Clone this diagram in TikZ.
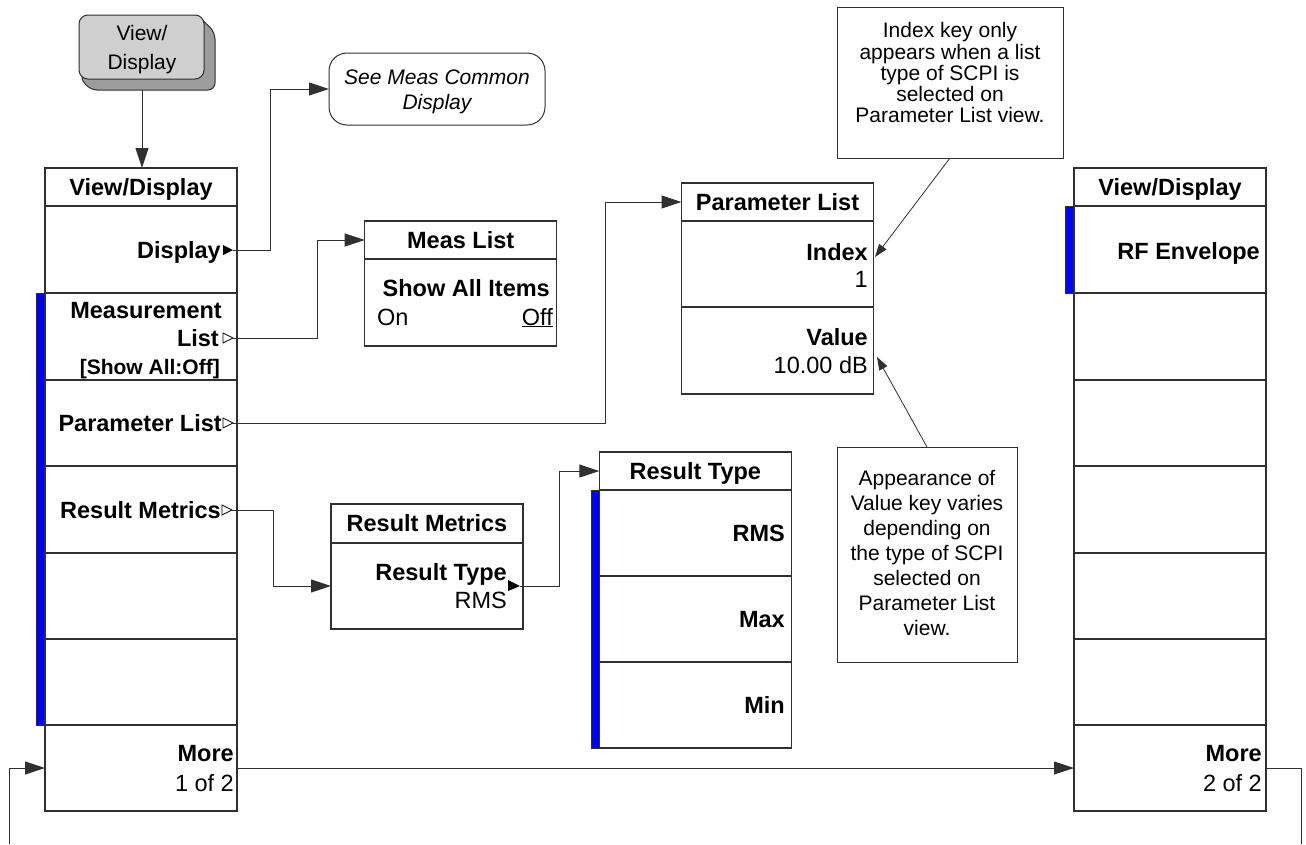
\documentclass[tikz,border=0pt]{standalone}
\usepackage{fontspec}
\setmainfont{Liberation Sans}
\usetikzlibrary{arrows.meta,calc}

\newcommand\mnuKey{\fontsize{23.5}{27}\selectfont\bfseries}
\newcommand\mnuVal{\fontsize{23.5}{27}\selectfont}
\newcommand\mnuSmall{\fontsize{21}{25}\selectfont\bfseries}
\newcommand\mnuNote{\fontsize{21}{25}\selectfont}

\definecolor{btnface}{HTML}{CFCFCF}
\definecolor{btnside}{HTML}{9C9C9C}
\definecolor{linegray}{HTML}{303030}

\begin{document}
\begin{tikzpicture}[x=1pt,y=-1pt,
  frame/.style={draw=linegray, line width=1.1pt, fill=white, rectangle,
    inner sep=0pt, outer sep=0pt, anchor=north west, minimum width=192pt},
  keylbl/.style={font=\mnuKey, inner sep=0pt, anchor=base east},
  vallbl/.style={font=\mnuVal, inner sep=0pt, anchor=base east},
  ttl/.style={font=\mnuKey, inner sep=0pt, anchor=base},
  notelbl/.style={font=\mnuNote, inner sep=0pt, anchor=base},
  bluebar/.style={fill=blue, draw=linegray, line width=0.6pt},
  glyphfill/.style={fill=black},
  glyphopen/.style={draw=black, fill=white, line width=0.8pt},
  wire/.style={draw=linegray, line width=1pt},
  conn/.style={wire, -{Triangle[length=20pt,width=13pt]}},
  noteconn/.style={draw=linegray, line width=0.8pt, -{Triangle[length=13pt,width=9pt]}},
  notebox/.style={draw=linegray, line width=1pt, fill=white, rectangle,
    inner sep=0pt, outer sep=0pt, anchor=north west}
]
\useasboundingbox (0,0) rectangle (1306,844);
\fill[white] (0,0) rectangle (1306,844);

% ---------- hard key ----------
\filldraw[fill=btnside, draw=linegray, line width=1pt, rounded corners=7pt]
  (198,16) -- (215,32) -- (215,90) -- (90,90) -- (79,76) -- cycle;
\node[draw=linegray, fill=btnface, line width=1pt, rounded corners=9pt,
  minimum width=125pt, minimum height=64pt, inner sep=0pt, outer sep=0pt,
  anchor=north west] (btn) at (79,15) {};
\node[notelbl] (btnA) at (142,40.5) {View/};
\node[notelbl] (btnB) at (142,69.5) {Display};
\coordinate (btnBase) at (142,90);

% ---------- left menu, page 1 ----------
\fill[bluebar] (36,293) rectangle (45,725);
\node[frame, minimum height=38pt] (L0) at (45,168) {};
\node[frame, minimum height=87pt] (L1) at (45,206) {};
\node[frame, minimum height=87pt] (L2) at (45,293) {};
\node[frame, minimum height=86pt] (L3) at (45,380) {};
\node[frame, minimum height=87pt] (L4) at (45,466) {};
\node[frame, minimum height=86pt] (L5) at (45,553) {};
\node[frame, minimum height=86pt] (L6) at (45,639) {};
\node[frame, minimum height=86pt] (L7) at (45,725) {};

\node[ttl] (L0t) at (141,195) {View/Display};
\node[keylbl] (L1t) at (221,258) {Display};
\node[keylbl] (L2a) at (222,318) {Measurement};
\node[keylbl] (L2b) at (219,346) {List};
\node[font=\mnuSmall, inner sep=0pt, anchor=base east] (L2c) at (220,374) {[Show All:Off]};
\node[keylbl] (L3t) at (222,431) {Parameter List};
\node[keylbl] (L4t) at (221,518) {Result Metrics};
\node[keylbl] (L7a) at (234,761) {More};
\node[vallbl] (L7b) at (234,791) {1 of 2};

% submenu markers
\fill[glyphfill] (223,245) -- (233,250) -- (223,255) -- cycle;
\coordinate (L1g) at (233,250);
\draw[glyphopen] (223,333) -- (233,338) -- (223,343) -- cycle;
\coordinate (L2g) at (233,338);
\draw[glyphopen] (223,418) -- (233,423) -- (223,428) -- cycle;
\coordinate (L3g) at (233,423);
\draw[glyphopen] (222,505) -- (232,510) -- (222,515) -- cycle;
\coordinate (L4g) at (232,510);

% ---------- reference note ----------
\node[draw=linegray, line width=1pt, rounded corners=18pt, minimum width=216pt,
  minimum height=72pt, inner sep=0pt, outer sep=0pt, anchor=north west] (see) at (329,53) {};
\node[notelbl, font=\mnuNote\itshape] (seeA) at (437,84.5) {See Meas Common};
\node[notelbl, font=\mnuNote\itshape] (seeB) at (437,109.5) {Display};

% ---------- Meas List ----------
\node[frame, minimum height=38pt] (M0) at (364.7,221) {};
\node[frame, minimum height=87pt] (M1) at (364.7,259) {};
\node[ttl] (M0t) at (460.7,248) {Meas List};
\node[keylbl] (M1a) at (550,296) {Show All Items};
\node[font=\mnuVal, inner sep=0pt, anchor=base west] (M1on) at (377,325) {On};
\node[vallbl] (M1off) at (553,325) {\underline{Off}};

% ---------- Parameter List ----------
\node[frame, minimum height=38pt] (P0) at (681.5,183) {};
\node[frame, minimum height=86pt] (P1) at (681.5,221) {};
\node[frame, minimum height=87pt] (P2) at (681.5,307) {};
\node[ttl] (P0t) at (777.5,210) {Parameter List};
\node[keylbl] (P1a) at (868,260) {Index};
\node[vallbl] (P1b) at (868,287) {1};
\node[keylbl] (P2a) at (868,345) {Value};
\node[vallbl] (P2b) at (868,373) {10.00 dB};
\coordinate (P1tip) at (875,257);
\coordinate (P2tip) at (877,357);

% ---------- notes ----------
\node[notebox, minimum width=226pt, minimum height=151pt] (NI) at (837,7) {};
\node[notelbl] (NIa) at (950,37.5) {Index key only};
\node[notelbl] (NIb) at (950,59.2) {appears when a list};
\node[notelbl] (NIc) at (950,80.2) {type of SCPI is};
\node[notelbl] (NId) at (950,101.5) {selected on};
\node[notelbl] (NIe) at (950,122.5) {Parameter List view.};

\node[notebox, minimum width=180pt, minimum height=215pt] (NV) at (837,447) {};
\node[notelbl] (NVa) at (927,485.5) {Appearance of};
\node[notelbl] (NVb) at (927,510.5) {Value key varies};
\node[notelbl] (NVc) at (927,535.5) {depending on};
\node[notelbl] (NVd) at (927,560.5) {the type of SCPI};
\node[notelbl] (NVe) at (927,585.5) {selected on};
\node[notelbl] (NVf) at (927,610.5) {Parameter List};
\node[notelbl] (NVg) at (927,635.5) {view.};

\draw[noteconn] (NI.south) -- (P1tip);
\draw[noteconn] (NV.north) -- (P2tip);

% ---------- Result Metrics ----------
\node[frame, minimum height=39pt] (RM0) at (331,504) {};
\node[frame, minimum height=86pt] (RM1) at (331,543) {};
\node[ttl] (RM0t) at (427,531) {Result Metrics};
\node[keylbl] (RM1a) at (507,580) {Result Type};
\node[vallbl] (RM1b) at (507,608) {RMS};
\fill[glyphfill] (508,580) -- (520,586) -- (508,591) -- cycle;
\coordinate (RM1g) at (520,586);

% ---------- Result Type ----------
\fill[bluebar] (591,490) rectangle (599.3,748);
\node[frame, minimum height=38pt] (RT0) at (599.3,452) {};
\node[frame, minimum height=86pt] (RT1) at (599.3,490) {};
\node[frame, minimum height=86pt] (RT2) at (599.3,576) {};
\node[frame, minimum height=86pt] (RT3) at (599.3,662) {};
\node[ttl] (RT0t) at (695.3,479) {Result Type};
\node[keylbl] (RT1t) at (785,541) {RMS};
\node[keylbl] (RT2t) at (785,627) {Max};
\node[keylbl] (RT3t) at (785,713) {Min};

% ---------- right menu, page 2 ----------
\fill[bluebar] (1065,206) rectangle (1074,293);
\node[frame, minimum height=38pt] (R0) at (1074,168) {};
\node[frame, minimum height=87pt] (R1) at (1074,206) {};
\node[frame, minimum height=87pt] (R2) at (1074,293) {};
\node[frame, minimum height=86pt] (R3) at (1074,380) {};
\node[frame, minimum height=87pt] (R4) at (1074,466) {};
\node[frame, minimum height=86pt] (R5) at (1074,553) {};
\node[frame, minimum height=86pt] (R6) at (1074,639) {};
\node[frame, minimum height=86pt] (R7) at (1074,725) {};
\node[ttl] (R0t) at (1170,195) {View/Display};
\node[keylbl] (R1t) at (1260,259) {RF Envelope};
\node[keylbl] (R7a) at (1262,761) {More};
\node[vallbl] (R7b) at (1262,791) {2 of 2};

% ---------- connectors ----------
\draw[conn] (btnBase) -- (btnBase |- L0.north);
\draw[conn] (L1g) -- (270,250) |- (see.west);
\draw[conn] (L2g) -- (317,338) |- (M0.west);
\draw[conn] (L3g) -- (605,423) |- (P0.west);
\draw[conn] (L4g) -- (273,510) |- (RM1.west);
\draw[conn] (RM1g) -- (559,586) |- (RT0.west);
\draw[conn] (L7.east) -- (R7.west);
\coordinate (loopR) at (1301,844);
\coordinate (loopL) at (9,844);
\draw[wire] (R7.east) -| (loopR);
\draw[conn] (loopL) |- (L7.west);
\end{tikzpicture}
\end{document}
